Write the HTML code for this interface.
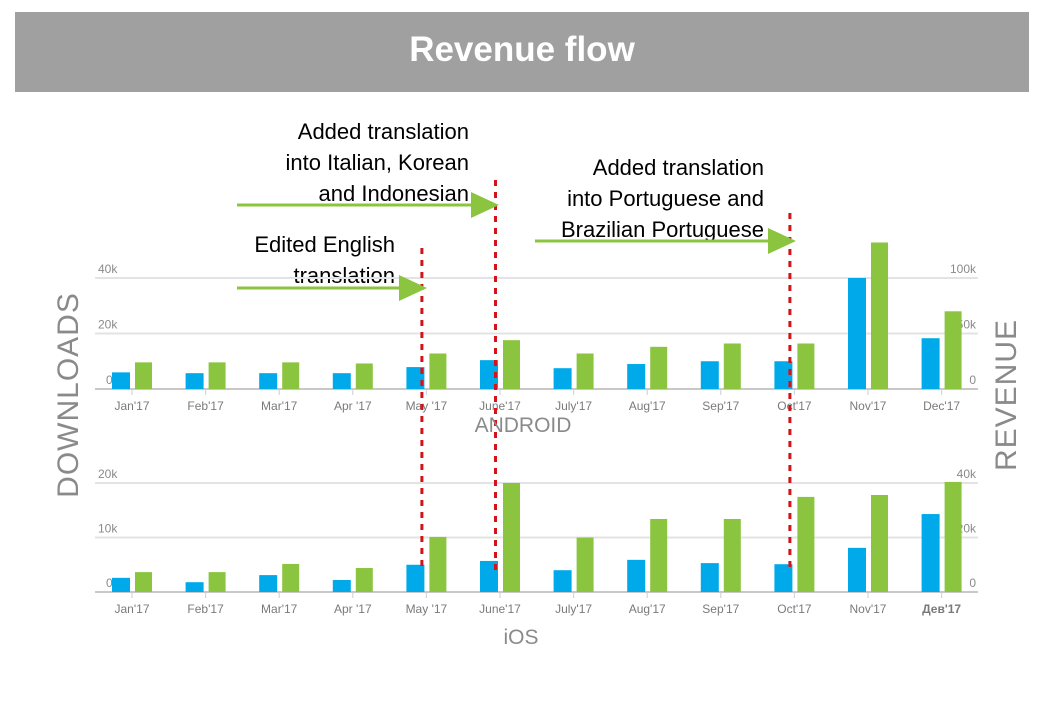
<!DOCTYPE html>
<html><head><meta charset="utf-8"><style>
body{margin:0;background:#fff;width:1046px;height:710px;overflow:hidden;font-family:"Liberation Sans",sans-serif}
svg{display:block}
</style></head><body>
<svg id="s" width="1046" height="710" xmlns="http://www.w3.org/2000/svg">
<rect x="15" y="12" width="1014" height="80" fill="#a0a0a0"/>
<text x="522" y="61" text-anchor="middle" font-size="35" font-weight="bold" fill="#fff">Revenue flow</text>
<g font-size="22" fill="#000" text-anchor="end">
<text x="469" y="139">Added translation</text>
<text x="469" y="170">into Italian, Korean</text>
<text x="469" y="201">and Indonesian</text>
<text x="764" y="175">Added translation</text>
<text x="764" y="206">into Portuguese and</text>
<text x="764" y="237">Brazilian Portuguese</text>
<text x="395" y="252">Edited English</text>
<text x="395" y="283">translation</text>
</g>
<g id="plots"></g>
<text transform="translate(78,395) rotate(-90)" text-anchor="middle" font-size="30" fill="#8a8a8a" letter-spacing="1">DOWNLOADS</text>
<text transform="translate(1016,395) rotate(-90)" text-anchor="middle" font-size="30" fill="#8a8a8a" letter-spacing="1">REVENUE</text>
<text x="523" y="432" text-anchor="middle" font-size="21" fill="#8a8a8a">ANDROID</text>
<text x="521" y="644" text-anchor="middle" font-size="21" fill="#8a8a8a">iOS</text>
</svg>
<script>
const months=["Jan'17","Feb'17","Mar'17","Apr '17","May '17","June'17","July'17","Aug'17","Sep'17","Oct'17","Nov'17","Dec'17"];
const iosMonths=["Jan'17","Feb'17","Mar'17","Apr '17","May '17","June'17","July'17","Aug'17","Sep'17","Oct'17","Nov'17","Дев'17"];
const androidDownloads=[6,5.7,5.7,5.7,7.9,10.4,7.5,9,10,10,40,18.3];
const androidRevenue=[24,24,24,23,32,44,32,38,41,41,132,70];
const iosDownloads=[2.6,1.8,3.1,2.2,5,5.7,4,5.9,5.3,5.1,8.1,14.3];
const iosRevenue=[7.3,7.3,10.3,8.8,20.2,40,20,26.8,26.8,34.9,35.6,40.4];
const androidLeftTicks=[0,20,40];
const androidRightTicks=[0,50,100];
const iosLeftTicks=[0,10,20];
const iosRightTicks=[0,20,40];
const eventMonths=[4,5,9];

const NS="http://www.w3.org/2000/svg";
const g=document.getElementById('plots');
function el(t,a,p){const e=document.createElementNS(NS,t);for(const k in a)e.setAttribute(k,a[k]);(p||g).appendChild(e);return e;}
const x=i=>132+i*73.6;
function panel(name,base,leftMax,leftH,rightMax,lefts,rights,dl,rev,labs){
  const yl=v=>base-v/leftMax*leftH, yr=v=>base-v/rightMax*leftH;
  const grp=el('g',{});
  
  
  lefts.forEach((v,i)=>{if(i>0){const l=el('line',{x1:95,x2:978,y1:yl(v),y2:yl(v),stroke:'#e3e3e3','stroke-width':2},grp);}
    const t=el('text',{x:v===0?106:98,y:yl(v)-5,'font-size':12,fill:'#8a8a8a'},grp);t.textContent=v===0?'0':v+'k';
    });
  rights.forEach(v=>{const t=el('text',{x:976,y:yr(v)-5,'font-size':12,fill:'#8a8a8a','text-anchor':'end'},grp);t.textContent=v===0?'0':v+'k';
    });
  const ax=el('line',{x1:95,x2:978,y1:base,y2:base,stroke:'#c8c8c8','stroke-width':2},grp);
  
  labs.forEach((m,i)=>{
    const tk=el('line',{x1:x(i),x2:x(i),y1:base,y2:base+6,stroke:'#c8d0dc','stroke-width':1},grp);
    
    const b=el('rect',{x:x(i)-20,y:yl(dl[i]),width:18,height:base-yl(dl[i]),fill:'#00aaea'},grp);
    
    const r=el('rect',{x:x(i)+3,y:yr(rev[i]),width:17,height:base-yr(rev[i]),fill:'#8bc53f'},grp);
    
    const t=el('text',{x:x(i),y:base+21,'font-size':12,fill:'#7a7a7a','text-anchor':'middle','font-weight':m.startsWith('Дев')?'bold':'normal'},grp);t.textContent=m;
    
  });
}
panel('android',389,40,111,100,androidLeftTicks,androidRightTicks,androidDownloads,androidRevenue,months);
panel('ios',592,20,109,40,iosLeftTicks,iosRightTicks,iosDownloads,iosRevenue,iosMonths);
const tops=[248,180,213];
eventMonths.forEach((m,k)=>{const xx=x(m)-4.5+ (k==0?0:k==1?0:0);
  const l=el('line',{x1:xx,x2:xx,y1:tops[k],y2:572,stroke:'#d0141a','stroke-width':3,'stroke-dasharray':'6,6'});
  });
const arrows=[[237,427,288],[237,499,205],[535,796,241]];
arrows.forEach(a=>{
  const l=el('line',{x1:a[0],x2:a[1]-25,y1:a[2],y2:a[2],stroke:'#8bc53f','stroke-width':3});
  
  const p=el('polygon',{points:`${a[1]-28},${a[2]-13} ${a[1]},${a[2]} ${a[1]-28},${a[2]+13}`,fill:'#8bc53f'});
  
});
</script>
</body></html>
